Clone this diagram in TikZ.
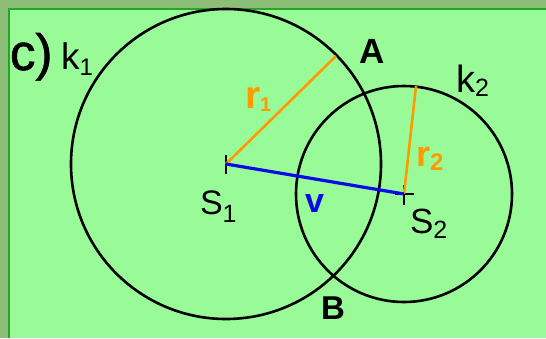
\documentclass[tikz,border=0pt]{standalone}
\usepackage{fontspec}
\setmainfont{Liberation Sans}
\newfontfamily\heavyc[FakeBold=1.2]{Liberation Sans}
\definecolor{outerg}{RGB}{141,190,120}
\definecolor{panelg}{RGB}{152,251,152}
\definecolor{borderg}{RGB}{38,166,38}
\definecolor{rorange}{RGB}{255,153,0}
\definecolor{vblue}{RGB}{10,10,230}
\newcommand\mysub[3]{\raisebox{-#1}{\fontsize{#2}{#2}\selectfont #3}}
\tikzset{
  circ/.style={draw=black, line width=2.6pt},
  tickmark/.style={draw=black, line width=2pt},
  rline/.style={draw=rorange, line width=2.6pt},
  vline/.style={draw=vblue, line width=3.2pt},
  lab/.style={inner sep=0pt, outer sep=0pt, anchor=base west},
}
\begin{document}
\begin{tikzpicture}[x=1pt,y=-1pt]
\useasboundingbox (0,0) rectangle (546,338);
\fill[outerg] (0,0) rectangle (546,338);
\fill[panelg] (8.75,8.75) rectangle (546,338);
\draw[borderg, line width=2.5pt] (8.75,338) -- (8.75,8.75) -- (546,8.75);
\coordinate (S1) at (226,164);
\coordinate (S2) at (404,194);
\coordinate (P1) at (336,56);
\coordinate (P2) at (416,86);
\draw[circ] (S1) circle[radius=155pt];
\draw[circ] (S2) circle[radius=108pt];
\draw[tickmark] (S1) ++(0,-9) -- ++(0,19);
\draw[tickmark] (S2) ++(0,-9) -- ++(0,20);
\draw[tickmark] (S2) ++(-9,0) -- ++(19,0);
\draw[rline] (S1) -- (P1);
\draw[rline] (S2) -- (P2);
\draw[vline] (S1) -- (S2);
\node[lab, font=\heavyc\fontsize{51}{51}\selectfont] (lc) at (10,70) {c)};
\node[lab, font=\fontsize{37}{37}\selectfont] (lk1) at (61,69) {k\mysub{6pt}{24}{1}};
\node[lab, font=\fontsize{35}{35}\selectfont\bfseries] (lA) at (359,63) {A};
\node[lab, font=\fontsize{38}{38}\selectfont] (lk2) at (456,92) {k\mysub{4pt}{25}{2}};
\node[lab, font=\fontsize{39}{39}\selectfont\bfseries, text=rorange] (lr1) at (245,108) {r\mysub{3pt}{20}{1}};
\node[lab, font=\fontsize{36}{36}\selectfont\bfseries, text=rorange] (lr2) at (416,166) {r\mysub{4pt}{24}{2}};
\node[lab, font=\fontsize{34}{34}\selectfont] (lS1) at (200,214) {S\mysub{8pt}{25}{1}};
\node[lab, font=\fontsize{35}{35}\selectfont] (lS2) at (410,233) {S\mysub{5pt}{25}{2}};
\node[lab, font=\fontsize{34}{34}\selectfont\bfseries, text=vblue] (lv) at (305,212) {v};
\node[lab, font=\fontsize{33}{33}\selectfont\bfseries] (lB) at (321,319) {B};
\end{tikzpicture}
\end{document}
